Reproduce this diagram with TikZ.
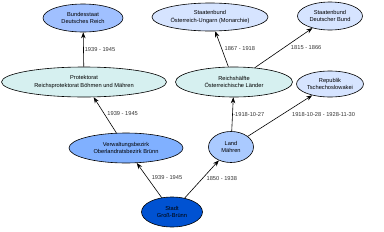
\documentclass[tikz,border=0pt]{standalone}
\usepackage{fontspec}
\setmainfont{Liberation Sans}
\usepackage{tikz}
\usetikzlibrary{positioning, arrows.meta, shapes.geometric}
\definecolor{bund_blue}{RGB}{160, 192, 255}
\definecolor{staat_blue}{RGB}{214, 228, 255}
\definecolor{half_cyan}{RGB}{214, 240, 240}
\definecolor{verw_blue}{RGB}{128, 176, 255}
\definecolor{land_blue}{RGB}{170, 202, 255}
\definecolor{stadt_blue}{RGB}{0, 82, 210}

\begin{document}
\begin{tikzpicture}[x=1pt, y=-1pt, font=\fontsize{5.7}{7.2}\selectfont,
      >={Stealth[length=6pt, width=4.5pt]},
      unit/.style={draw, ellipse, line width=0.6pt, align=center, inner sep=0pt},
      lbl/.style={font=\fontsize{5.7}{6}\selectfont, inner sep=0.5pt, text=black!80}]
    \useasboundingbox (0,0) rectangle (384,231);
    \node[unit, fill=bund_blue,  minimum width=80pt,  minimum height=28pt] (reich39) at (83,18)  {Bundesstaat\\Deutsches Reich};
    \node[unit, fill=staat_blue, minimum width=116pt, minimum height=28pt] (oeu)     at (210,17) {Staatenbund\\Österreich-Ungarn (Monarchie)};
    \node[unit, fill=staat_blue, minimum width=65pt,  minimum height=28pt] (dbund)   at (330,16) {Staatenbund\\Deutscher Bund};
    \node[unit, fill=half_cyan,  minimum width=165pt, minimum height=30pt] (prot)    at (84,82)  {Protektorat\\Reichsprotektorat Böhmen und Mähren};
    \node[unit, fill=half_cyan,  minimum width=117pt, minimum height=30pt] (cis)     at (234,82) {Reichshälfte\\Österreichische Länder};
    \node[unit, fill=staat_blue, minimum width=67pt,  minimum height=26pt] (csr)     at (330,84) {Republik\\Tschechoslowakei};
    \node[unit, fill=verw_blue,  minimum width=114pt, minimum height=30pt] (verw)    at (126,148) {Verwaltungsbezirk\\Oberlandratsbezirk Brünn};
    \node[unit, fill=land_blue,  minimum width=45pt,  minimum height=31pt] (land)    at (231,147) {Land\\Mähren};
    \node[unit, fill=stadt_blue, minimum width=61pt,  minimum height=30pt] (stadt)   at (172,212) {Stadt\\Groß-Brünn};
    \draw[->, line width=0.6pt] (prot)  -- node[lbl, right=0.5pt]{1939 - 1945} (reich39);
    \draw[->, line width=0.6pt] (verw)  -- node[lbl, right=2.5pt, pos=0.54]{1939 - 1945} (prot);
    \draw[->, line width=0.6pt] (stadt) -- node[lbl, right=4pt, pos=0.59]{1939 - 1945} (verw);
    \draw[->, line width=0.6pt] (stadt) -- node[lbl, right=3pt, pos=0.53]{1850 - 1938} (land);
    \draw[->, line width=0.6pt] (land)  -- node[lbl, right=0pt, pos=0.48]{-1918-10-27} (cis);
    \draw[->, line width=0.6pt] (land)  -- node[lbl, right=10pt, pos=0.52]{1918-10-28 - 1928-11-30} (csr);
    \draw[->, line width=0.6pt] (cis)   -- node[lbl, right=2pt, pos=0.5]{1867 - 1918} (oeu);
    \draw[->, line width=0.6pt] (cis)   -- node[lbl, right=6pt, pos=0.51]{1815 - 1866} (dbund);
  \end{tikzpicture}
\end{document}
